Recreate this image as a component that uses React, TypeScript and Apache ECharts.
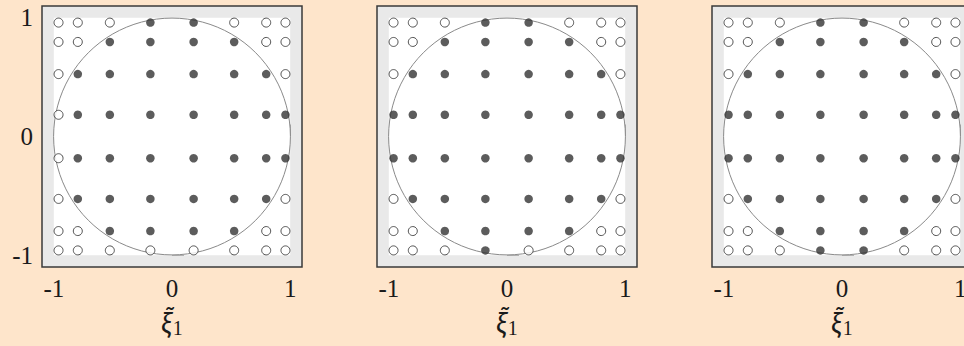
import React, { useEffect, useRef } from "react";
import * as echarts from "echarts";

// Quadrature node positions (same for x and y)
const nodes = [-0.96, -0.797, -0.526, -0.183, 0.183, 0.526, 0.797, 0.96];
const rowValues = [0.96, 0.797, 0.526, 0.183, -0.183, -0.526, -0.797, -0.96];
const tickValues = [-1, 0, 1];
const tickLabels = ["-1", "0", "1"];
const circle = [[0, 0, 1]];
const refSquare = [[-1, -1, 1, 1]];
const axisMin = -1.1;
const axisMax = 1.1;

// F = filled point, O = open point; rows top (y = 0.96) to bottom (y = -0.96)
const panel1 = ["OOOFFOOO", "OOFFFFOO", "OFFFFFFO", "OFFFFFFF", "OFFFFFFF", "OFFFFFFO", "OOFFFFOO", "OOOOOOOO"];
const panel2 = ["OOOFFOOO", "OOFFFFOO", "OFFFFFFO", "FFFFFFFF", "FFFFFFFF", "OFFFFFFO", "OOFFFFOO", "OOOFOOOO"];
const panel3 = ["OOOFFOOO", "OOFFFFOO", "OFFFFFFO", "FFFFFFFF", "FFFFFFFF", "OFFFFFFO", "OOFFFFOO", "OOOFFOOO"];
const panels = [panel1, panel2, panel3];

const FONT = "Liberation Serif";

function points(pattern: string[], kind: string) {
  const out: number[][] = [];
  pattern.forEach((row, r) =>
    row.split("").forEach((c, k) => {
      if (c === kind) out.push([nodes[k], rowValues[r]]);
    })
  );
  return out;
}

export default function App() {
  const ref = useRef<HTMLDivElement>(null);
  useEffect(() => {
    document.body.style.margin = "0";
    document.body.style.background = "#fee5cb";
    const chart = echarts.init(ref.current!, null, { renderer: "svg" });
    const grids: any[] = [];
    const xAxes: any[] = [];
    const yAxes: any[] = [];
    const series: any[] = [];
    const fmt = (v: number) => {
      const i = tickValues.indexOf(Math.round(v * 1000) / 1000);
      return i >= 0 ? tickLabels[i] : "";
    };
    panels.forEach((pattern, i) => {
      grids.push({
        left: 42 + 335 * i,
        top: 6,
        width: 260,
        height: 261,
        outerBoundsMode: "none",
        containLabel: false,
        show: true,
        backgroundColor: "#e9e9e9",
        borderColor: "#3a3a3a",
        borderWidth: 1.5,
      });
      xAxes.push({
        gridIndex: i,
        type: "value",
        min: axisMin,
        max: axisMax,
        axisLine: { show: false },
        splitLine: { show: false },
        axisTick: {
          show: true,
          inside: true,
          length: 12,
          customValues: tickValues,
          lineStyle: { color: "#999", width: 1 },
        },
        axisLabel: {
          show: true,
          customValues: tickValues,
          formatter: fmt,
          margin: 9,
          fontFamily: FONT,
          fontSize: 25,
          color: "#1a1a1a",
        },
        name: "{x|ξ\u0303}{s|1}",
        nameLocation: "middle",
        nameGap: 37,
        nameTextStyle: {
          align: "center",
          rich: {
            x: { fontFamily: "Lato", fontStyle: "italic", fontSize: 29, color: "#1a1a1a", lineHeight: 34 },
            s: { fontFamily: FONT, fontSize: 20, color: "#1a1a1a", lineHeight: 34, padding: [12, 0, 0, 1] },
          },
        },
      });
      yAxes.push({
        gridIndex: i,
        type: "value",
        min: axisMin,
        max: axisMax,
        axisLine: { show: false },
        splitLine: { show: false },
        axisTick: {
          show: true,
          inside: true,
          length: 12,
          customValues: tickValues,
          lineStyle: { color: "#999", width: 1 },
        },
        axisLabel: {
          show: i === 0,
          customValues: tickValues,
          formatter: fmt,
          margin: 9,
          fontFamily: FONT,
          fontSize: 25,
          color: "#1a1a1a",
        },
      });
      series.push({
        type: "custom",
        xAxisIndex: i,
        yAxisIndex: i,
        z: 1,
        silent: true,
        data: refSquare,
        renderItem: (_p: any, api: any) => {
          const a = api.coord([api.value(0), api.value(3)]);
          const b = api.coord([api.value(2), api.value(1)]);
          return {
            type: "rect",
            shape: { x: a[0], y: a[1], width: b[0] - a[0], height: b[1] - a[1] },
            style: { fill: "#ffffff" },
          };
        },
      });
      series.push({
        type: "custom",
        xAxisIndex: i,
        yAxisIndex: i,
        z: 2,
        silent: true,
        data: circle,
        renderItem: (_p: any, api: any) => {
          const c = api.coord([api.value(0), api.value(1)]);
          const r = api.size([api.value(2), api.value(2)]);
          return {
            type: "circle",
            shape: { cx: c[0], cy: c[1], r: (r[0] + r[1]) / 2 },
            style: { fill: "none", stroke: "#8a8a8a", lineWidth: 1 },
          };
        },
      });
      series.push({
        type: "scatter",
        xAxisIndex: i,
        yAxisIndex: i,
        z: 3,
        symbol: "circle",
        symbolSize: 8.5,
        data: points(pattern, "F"),
        itemStyle: { color: "#333333" },
      });
      series.push({
        type: "scatter",
        xAxisIndex: i,
        yAxisIndex: i,
        z: 3,
        symbol: "circle",
        symbolSize: 9,
        data: points(pattern, "O"),
        itemStyle: { color: "#ffffff", borderColor: "#2a2a2a", borderWidth: 1 },
      });
    });
    chart.setOption({
      animation: false,
      backgroundColor: "#fee5cb",
      grid: grids,
      xAxis: xAxes,
      yAxis: yAxes,
      series,
    });
    return () => chart.dispose();
  }, []);
  return <div ref={ref} style={{ width: 964, height: 346 }} />;
}
